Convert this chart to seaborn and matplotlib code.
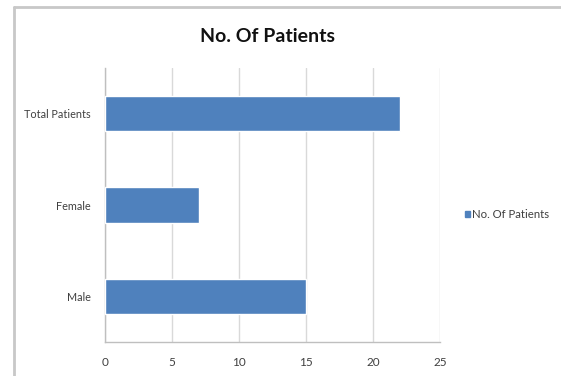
import matplotlib
matplotlib.use("Agg")
import matplotlib.pyplot as plt
from matplotlib.lines import Line2D
from matplotlib.patches import Rectangle
import seaborn as sns
import pandas as pd

categories = ["Total Patients", "Female", "Male"]
patients = [22, 7, 15]
series_name = "No. Of Patients"
x_ticks = [0, 5, 10, 15, 20, 25]

sns.set_theme(style="white")
plt.rcParams["font.family"] = ["Lato", "DejaVu Sans"]

df = pd.DataFrame({"category": categories, "patients": patients})

fig = plt.figure(figsize=(5.61, 3.76), dpi=100)
ax = fig.add_axes([105 / 561, 1 - 342 / 376, (440 - 105) / 561, (342 - 68) / 376])

sns.barplot(data=df, x="patients", y="category", orient="h", color="#4F81BD",
            saturation=1, width=0.385, ax=ax, zorder=3)

ax.set_xlim(0, 25)
ax.set_ylim(2.5, -0.5)
ax.set_xticks(x_ticks)
ax.set_xticklabels([str(t) for t in x_ticks], fontsize=8.5, color="#404040")
ax.set_yticks(range(len(categories)))
ax.set_yticklabels(categories, fontsize=7.8, color="#404040")
ax.set_yticks([-0.5, 0.5, 1.5, 2.5], minor=True)
ax.tick_params(axis="y", which="major", length=0, pad=10)
ax.tick_params(axis="y", which="minor", length=3, color="#bfbfbf", direction="out")
ax.tick_params(axis="x", which="major", length=3, color="#bfbfbf", direction="out", pad=8)
ax.set_xlabel("")
ax.set_ylabel("")

ax.grid(axis="x", color="#d9d9d9", linewidth=1, zorder=0)
for side in ["top", "right"]:
    ax.spines[side].set_visible(False)
for side in ["left", "bottom"]:
    ax.spines[side].set_color("#bfbfbf")
    ax.spines[side].set_linewidth(1)

fig.text(268 / 561, 1 - 36 / 376, series_name, ha="center", va="center",
         fontsize=14, fontweight="bold", color="#111111")

# legend entry
fig.add_artist(Rectangle((465 / 561, 1 - 217 / 376), 5 / 561, 6 / 376,
                         transform=fig.transFigure, color="#4F81BD"))
fig.text(472 / 561, 1 - 214 / 376, series_name, ha="left", va="center",
         fontsize=8.2, color="#404040")

# chart area border
fig.add_artist(Line2D([14 / 561, 14 / 561], [0, 1 - 7 / 376],
                      transform=fig.transFigure, color="#c8c8c8", linewidth=2))
fig.add_artist(Line2D([14 / 561, 1], [1 - 7 / 376, 1 - 7 / 376],
                      transform=fig.transFigure, color="#c8c8c8", linewidth=2))

fig.savefig("out.png", dpi=100)
